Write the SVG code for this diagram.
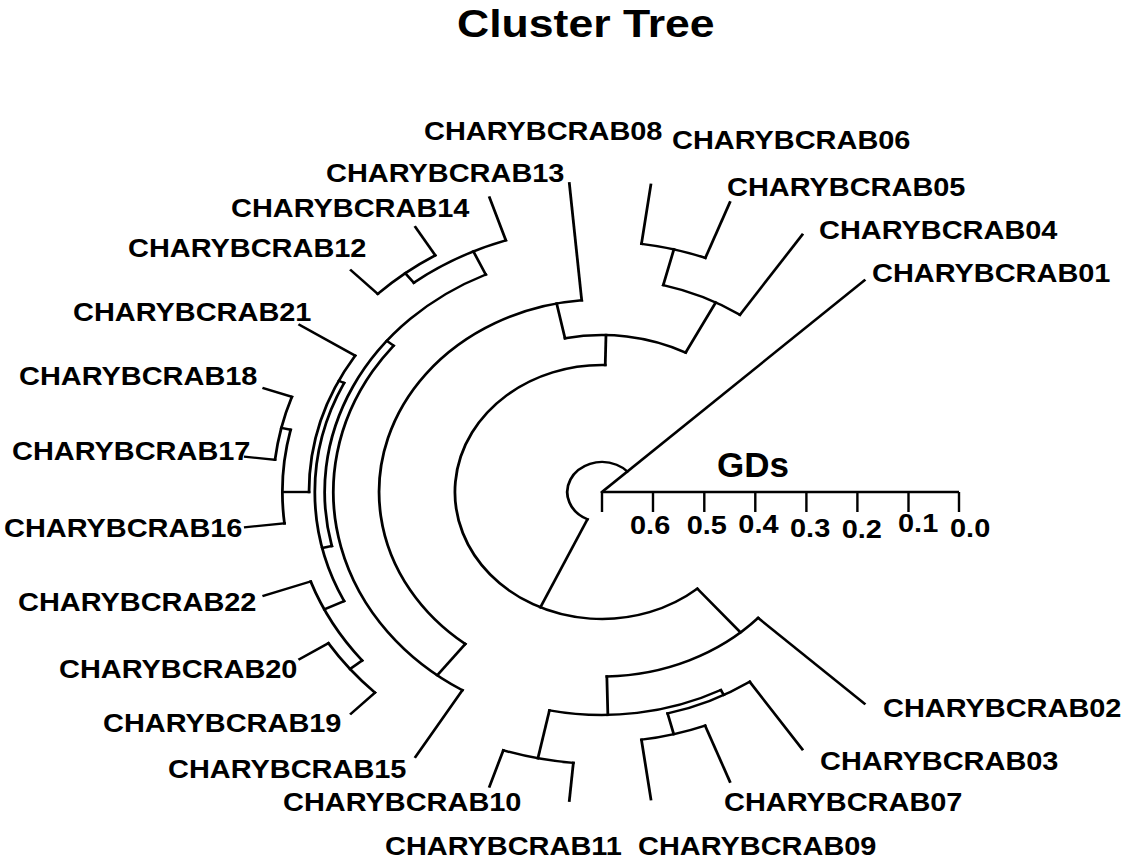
<svg xmlns="http://www.w3.org/2000/svg" width="1123" height="860" viewBox="0 0 1123 860">
<style>
.t line,.t circle{fill:none;stroke:#000;stroke-width:2.4;stroke-linecap:square}
.lbl{font-family:"Liberation Sans",Arial,sans-serif;font-weight:bold;font-size:25px;fill:#000}
.ax{stroke:#000;stroke-width:2.4;fill:none}
</style>
<rect width="1123" height="860" fill="#fff"/>
<text class="lbl" style="font-size:38.5px" transform="translate(457 37) scale(1.158 1)">Cluster Tree</text>
<g id="connectors" class="t" transform="translate(602 492) scale(1.158 1)">
<circle r="30" pathLength="360" stroke-dasharray="202.17 400" transform="rotate(-245.22)"/>
<line x1="0" x2="310" transform="rotate(-43.05)"/>
<line x1="30" x2="127" transform="rotate(-245.22)"/>
<circle r="127" pathLength="360" stroke-dasharray="221.69 400" transform="rotate(-310.43)"/>
<line x1="127" x2="157" transform="rotate(-88.74)"/>
<circle r="157" pathLength="360" stroke-dasharray="39.13 400" transform="rotate(-101.74)"/>
<line x1="157" x2="213.5" transform="rotate(-62.61)"/>
<circle r="213.5" pathLength="360" stroke-dasharray="19.56 400" transform="rotate(-75.65)"/>
<line x1="213.5" x2="310" transform="rotate(-56.09)"/>
<line x1="213.5" x2="250.5" transform="rotate(-75.65)"/>
<circle r="250.5" pathLength="360" stroke-dasharray="13.05 400" transform="rotate(-82.18)"/>
<line x1="250.5" x2="310" transform="rotate(-69.13)"/>
<line x1="250.5" x2="310" transform="rotate(-82.18)"/>
<line x1="157" x2="192.5" transform="rotate(-101.74)"/>
<circle r="192.5" pathLength="360" stroke-dasharray="136.95 400" transform="rotate(-232.17)"/>
<line x1="192.5" x2="310" transform="rotate(-95.22)"/>
<line x1="192.5" x2="232" transform="rotate(-232.17)"/>
<circle r="232" pathLength="360" stroke-dasharray="97.83 400" transform="rotate(-238.70)"/>
<line x1="232" x2="310" transform="rotate(-238.70)"/>
<line x1="232" x2="239.5" transform="rotate(-140.87)"/>
<circle r="239.5" pathLength="360" stroke-dasharray="78.26 400" transform="rotate(-193.04)"/>
<line x1="239.5" x2="265" transform="rotate(-114.78)"/>
<circle r="265" pathLength="360" stroke-dasharray="19.57 400" transform="rotate(-127.83)"/>
<line x1="265" x2="310" transform="rotate(-108.26)"/>
<line x1="265" x2="277" transform="rotate(-127.83)"/>
<circle r="277" pathLength="360" stroke-dasharray="13.04 400" transform="rotate(-134.35)"/>
<line x1="277" x2="310" transform="rotate(-121.31)"/>
<line x1="277" x2="310" transform="rotate(-134.35)"/>
<line x1="239.5" x2="248" transform="rotate(-193.04)"/>
<circle r="248" pathLength="360" stroke-dasharray="52.18 400" transform="rotate(-206.09)"/>
<line x1="248" x2="253" transform="rotate(-153.91)"/>
<circle r="253" pathLength="360" stroke-dasharray="32.61 400" transform="rotate(-180)"/>
<line x1="253" x2="310" transform="rotate(-147.39)"/>
<line x1="253" x2="276" transform="rotate(-180)"/>
<circle r="276" pathLength="360" stroke-dasharray="19.56 400" transform="rotate(-186.52)"/>
<line x1="276" x2="310" transform="rotate(-186.52)"/>
<line x1="276" x2="284.2" transform="rotate(-166.96)"/>
<circle r="284.2" pathLength="360" stroke-dasharray="13.04 400" transform="rotate(-173.48)"/>
<line x1="284.2" x2="310" transform="rotate(-160.44)"/>
<line x1="284.2" x2="310" transform="rotate(-173.48)"/>
<line x1="248" x2="267" transform="rotate(-206.09)"/>
<circle r="267" pathLength="360" stroke-dasharray="19.56 400" transform="rotate(-219.13)"/>
<line x1="267" x2="310" transform="rotate(-199.57)"/>
<line x1="267" x2="280.5" transform="rotate(-219.13)"/>
<circle r="280.5" pathLength="360" stroke-dasharray="13.04 400" transform="rotate(-225.65)"/>
<line x1="280.5" x2="310" transform="rotate(-212.61)"/>
<line x1="280.5" x2="310" transform="rotate(-225.65)"/>
<line x1="127" x2="184.5" transform="rotate(-310.43)"/>
<circle r="184.5" pathLength="360" stroke-dasharray="45.66 400" transform="rotate(-316.96)"/>
<line x1="184.5" x2="310" transform="rotate(-316.96)"/>
<line x1="184.5" x2="223" transform="rotate(-271.30)"/>
<circle r="223" pathLength="360" stroke-dasharray="39.13 400" transform="rotate(-297.39)"/>
<line x1="223" x2="272" transform="rotate(-258.26)"/>
<circle r="272" pathLength="360" stroke-dasharray="13.04 400" transform="rotate(-264.78)"/>
<line x1="272" x2="310" transform="rotate(-251.74)"/>
<line x1="272" x2="310" transform="rotate(-264.78)"/>
<line x1="223" x2="228.6" transform="rotate(-297.39)"/>
<circle r="228.6" pathLength="360" stroke-dasharray="19.56 400" transform="rotate(-303.91)"/>
<line x1="228.6" x2="310" transform="rotate(-303.91)"/>
<line x1="228.6" x2="250" transform="rotate(-284.35)"/>
<circle r="250" pathLength="360" stroke-dasharray="13.04 400" transform="rotate(-290.87)"/>
<line x1="250" x2="310" transform="rotate(-277.83)"/>
<line x1="250" x2="310" transform="rotate(-290.87)"/>
</g>
<g id="axis">
<path class="ax" d="M602 492H959M602 492v20M653 492v20M704.3 492v20M755.3 492v20M806.4 492v20M857.4 492v20M908.5 492v20M959 492v20"/>
<text class="lbl" style="font-size:35px" x="717" y="477">GDs</text>
<text class="lbl" transform="translate(630 534) scale(1.158 1)">0.6</text>
<text class="lbl" transform="translate(686.7 534) scale(1.158 1)">0.5</text>
<text class="lbl" transform="translate(738.3 533) scale(1.158 1)">0.4</text>
<text class="lbl" transform="translate(790 537) scale(1.158 1)">0.3</text>
<text class="lbl" transform="translate(841.7 538) scale(1.158 1)">0.2</text>
<text class="lbl" transform="translate(898 532) scale(1.158 1)">0.1</text>
<text class="lbl" transform="translate(950 537) scale(1.158 1)">0.0</text>
</g>
<g id="leaf08"><text class="lbl" transform="translate(424 140) scale(1.158 1)">CHARYBCRAB08</text></g>
<g id="leaf06"><text class="lbl" transform="translate(672 149) scale(1.158 1)">CHARYBCRAB06</text></g>
<g id="leaf05"><text class="lbl" transform="translate(727 196) scale(1.158 1)">CHARYBCRAB05</text></g>
<g id="leaf04"><text class="lbl" transform="translate(819 239) scale(1.158 1)">CHARYBCRAB04</text></g>
<g id="leaf01"><text class="lbl" transform="translate(872 282) scale(1.158 1)">CHARYBCRAB01</text></g>
<g id="leaf13"><text class="lbl" transform="translate(326 182) scale(1.158 1)">CHARYBCRAB13</text></g>
<g id="leaf14"><text class="lbl" transform="translate(231 217) scale(1.158 1)">CHARYBCRAB14</text></g>
<g id="leaf12"><text class="lbl" transform="translate(128 257) scale(1.158 1)">CHARYBCRAB12</text></g>
<g id="leaf21"><text class="lbl" transform="translate(73 321) scale(1.158 1)">CHARYBCRAB21</text></g>
<g id="leaf18"><text class="lbl" transform="translate(19 385) scale(1.158 1)">CHARYBCRAB18</text></g>
<g id="leaf17"><text class="lbl" transform="translate(12 460) scale(1.158 1)">CHARYBCRAB17</text></g>
<g id="leaf16"><text class="lbl" transform="translate(4 537) scale(1.158 1)">CHARYBCRAB16</text></g>
<g id="leaf22"><text class="lbl" transform="translate(18 611) scale(1.158 1)">CHARYBCRAB22</text></g>
<g id="leaf20"><text class="lbl" transform="translate(59 678) scale(1.158 1)">CHARYBCRAB20</text></g>
<g id="leaf19"><text class="lbl" transform="translate(103 732) scale(1.158 1)">CHARYBCRAB19</text></g>
<g id="leaf15"><text class="lbl" transform="translate(168 778) scale(1.158 1)">CHARYBCRAB15</text></g>
<g id="leaf10"><text class="lbl" transform="translate(283 811) scale(1.158 1)">CHARYBCRAB10</text></g>
<g id="leaf11"><text class="lbl" transform="translate(385 855) scale(1.158 1)">CHARYBCRAB11</text></g>
<g id="leaf09"><text class="lbl" transform="translate(638 855) scale(1.158 1)">CHARYBCRAB09</text></g>
<g id="leaf07"><text class="lbl" transform="translate(724 811) scale(1.158 1)">CHARYBCRAB07</text></g>
<g id="leaf03"><text class="lbl" transform="translate(820 770) scale(1.158 1)">CHARYBCRAB03</text></g>
<g id="leaf02"><text class="lbl" transform="translate(883 717) scale(1.158 1)">CHARYBCRAB02</text></g>
</svg>
